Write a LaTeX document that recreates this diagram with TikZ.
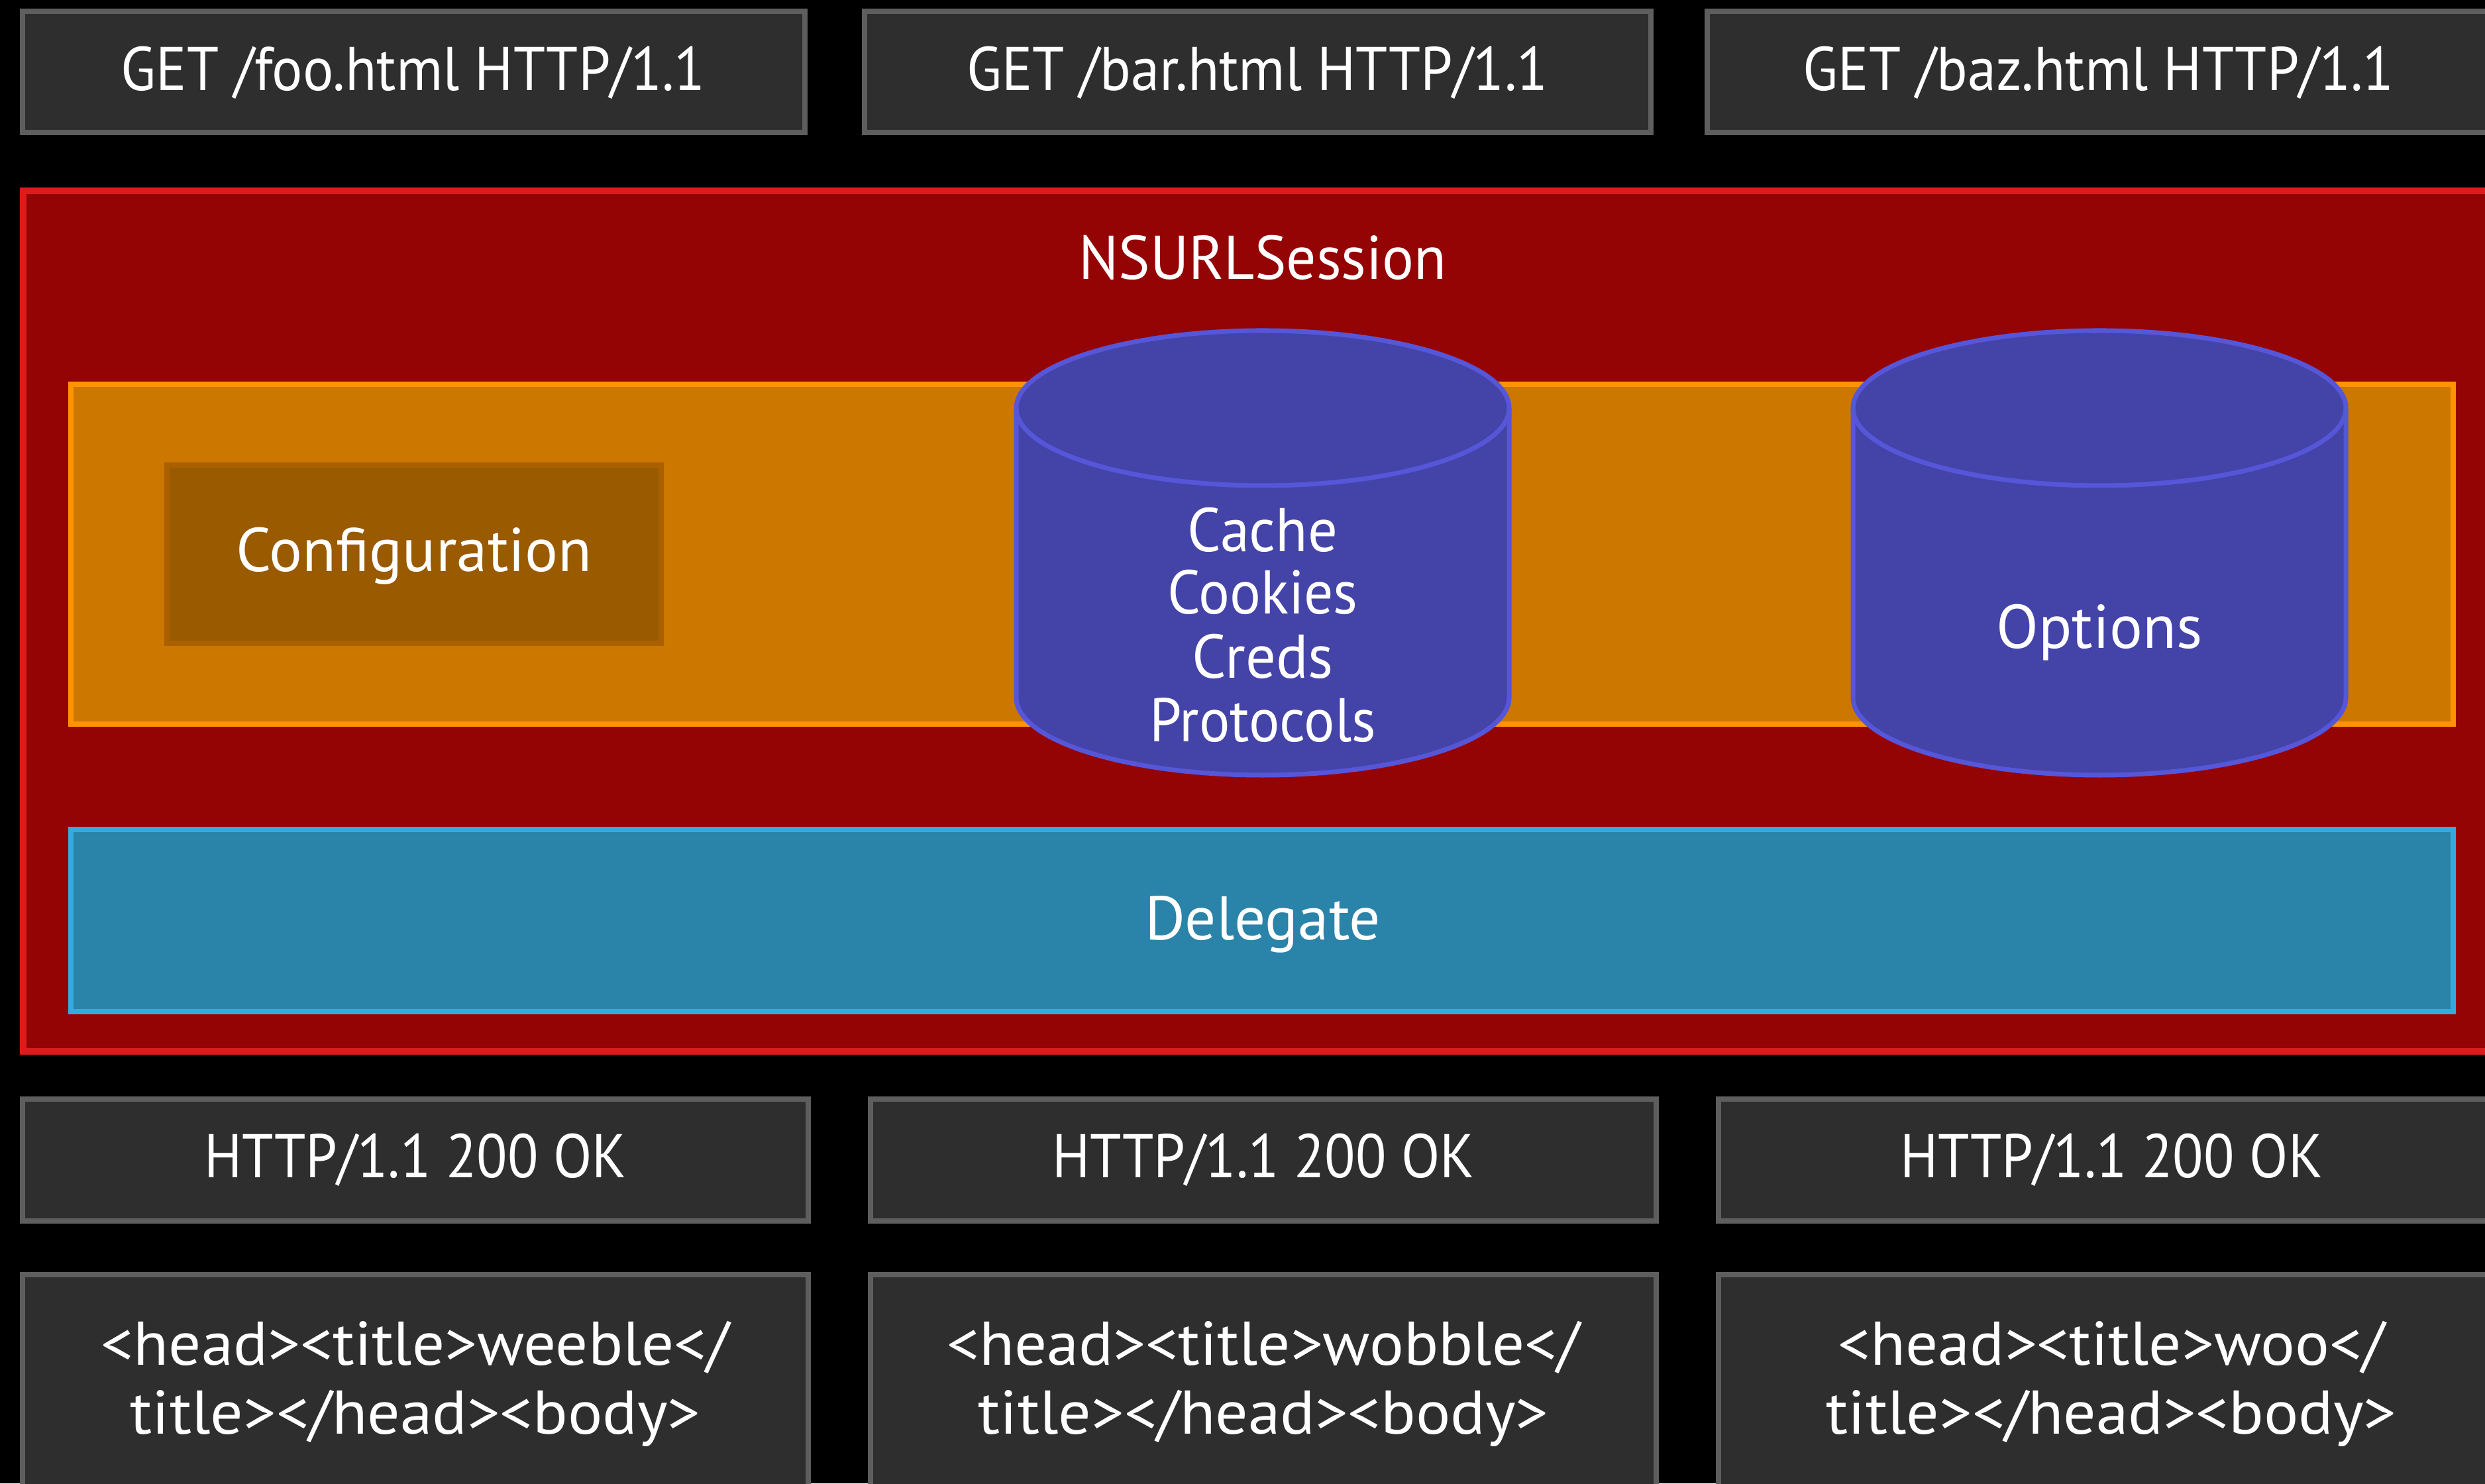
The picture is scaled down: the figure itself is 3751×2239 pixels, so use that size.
\documentclass[tikz,border=0pt]{standalone}
\usepackage{fontspec}
\setmainfont{PT Sans}
\definecolor{boxfill}{HTML}{2E2E2E}
\definecolor{boxline}{HTML}{5E5E5E}
\definecolor{sessfill}{HTML}{940404}
\definecolor{sessline}{HTML}{DD1B1B}
\definecolor{bandfill}{HTML}{CB7700}
\definecolor{bandline}{HTML}{FF9400}
\definecolor{cfgfill}{HTML}{9A5A00}
\definecolor{cfgline}{HTML}{AB6000}
\definecolor{cylfill}{HTML}{4443A8}
\definecolor{cylline}{HTML}{5656D9}
\definecolor{delfill}{HTML}{2A83A8}
\definecolor{delline}{HTML}{38A9DE}
\tikzset{
  msgbox/.style={fill=boxfill, draw=boxline, line width=2.3pt},
  sessbox/.style={fill=sessfill, draw=sessline, line width=2.85pt},
  bandbox/.style={fill=bandfill, draw=bandline, line width=2.3pt},
  cfgbox/.style={fill=cfgfill, draw=cfgline, line width=2.3pt},
  delbox/.style={fill=delfill, draw=delline, line width=2.3pt},
  cylbody/.style={fill=cylfill},
  cyledge/.style={draw=cylline, line width=2pt},
  lbl/.style={text=white, inner sep=0pt, anchor=base,
    font=\fontsize{26.5pt}{29pt}\selectfont},
  % horizontally condensed or widened label text
  lblw/.style={lbl,
    font=\fontsize{26.5pt}{29pt}\selectfont\addfontfeature{FakeStretch=#1}},
}
\begin{document}
\begin{tikzpicture}[x=0.01cm, y=0.01cm]
  \useasboundingbox (0,0) rectangle (3751,2239);
  \clip (0,0) rectangle (3751,2239);
  \fill[black] (0,0) rectangle (3751,2239);

  % request lines
  \draw[msgbox] (34,2039) rectangle (1215,2222);
  \draw[msgbox] (1305,2039) rectangle (2492,2222);
  \draw[msgbox] (2577,2039) rectangle (3764,2222);
  \node[lblw=0.93] (req1) at (624,2102) {GET /foo.html HTTP/1.1};
  \node[lblw=0.93] (req2) at (1898,2102) {GET /bar.html HTTP/1.1};
  \node[lblw=0.93] (req3) at (3168,2102) {GET /baz.html HTTP/1.1};

  % session container
  \draw[sessbox] (35,652) rectangle (3800,1951);
  \node[lblw=0.96] (session) at (1906,1817) {NSURLSession};

  % configuration band
  \draw[bandbox] (107,1146) rectangle (3703,1659);
  \draw[cfgbox] (252,1268) rectangle (998,1537);
  \node[lbl] (config) at (625,1376) {Configuration};

  % storage cylinders
  \foreach \cx in {1906,3169}{
    \fill[cylbody] (\cx-372,1623) -- (\cx-372,1186)
      arc[start angle=180, end angle=360, x radius=372, y radius=117]
      -- (\cx+372,1623)
      arc[start angle=0, end angle=180, x radius=372, y radius=117] -- cycle;
    \draw[cyledge] (\cx-372,1623) -- (\cx-372,1186)
      arc[start angle=180, end angle=360, x radius=372, y radius=117]
      -- (\cx+372,1623);
    \draw[cyledge] (\cx,1623) ellipse[x radius=372, y radius=117];
  }
  \node[lblw=0.95] (cache) at (1906,1406) {Cache};
  \node[lblw=0.94] (cookies) at (1906,1312) {Cookies};
  \node[lblw=0.97] (creds) at (1906,1215) {Creds};
  \node[lblw=0.93] (protocols) at (1906,1119) {Protocols};
  \node[lbl] (options) at (3169,1260) {Options};

  % delegate band
  \draw[delbox] (107,712) rectangle (3703,987);
  \node[lbl] (delegate) at (1906,820) {Delegate};

  % response status lines
  \draw[msgbox] (34,396) rectangle (1220,580);
  \draw[msgbox] (1314,396) rectangle (2500,580);
  \draw[msgbox] (2594,396) rectangle (3780,580);
  \node[lblw=0.915] (stat1) at (627,461) {HTTP/1.1 200 OK};
  \node[lblw=0.915] (stat2) at (1907,461) {HTTP/1.1 200 OK};
  \node[lblw=0.915] (stat3) at (3187,461) {HTTP/1.1 200 OK};

  % response bodies
  \draw[msgbox] (34,-100) rectangle (1220,315);
  \draw[msgbox] (1314,-100) rectangle (2500,315);
  \draw[msgbox] (2594,-100) rectangle (3780,315);
  \node[lblw=1.04] (body1a) at (627,178) {<head><title>weeble</};
  \node[lblw=1.05] (body1b) at (627,74) {title></head><body>};
  \node[lblw=1.04] (body2a) at (1907,178) {<head><title>wobble</};
  \node[lblw=1.05] (body2b) at (1907,74) {title></head><body>};
  \node[lblw=1.04] (body3a) at (3187,178) {<head><title>woo</};
  \node[lblw=1.05] (body3b) at (3187,74) {title></head><body>};
\end{tikzpicture}
\end{document}
